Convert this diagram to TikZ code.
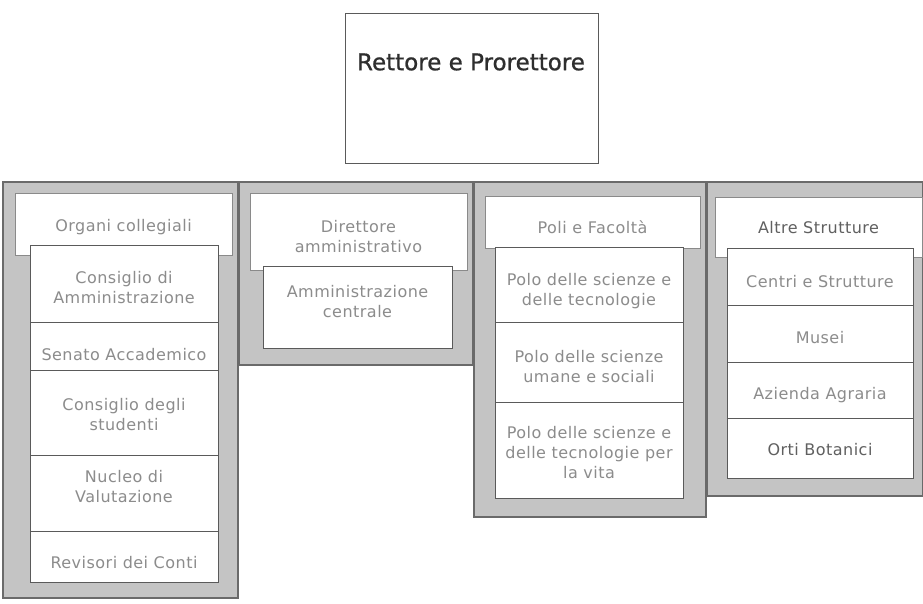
\documentclass[tikz,border=0pt]{standalone}
\usepackage{fontspec}
\newfontfamily\lblfont{DejaVu Sans}[LetterSpace=3]
\newfontfamily\ttlfont{DejaVu Sans}[FakeBold=0.8]
\definecolor{txtgray}{HTML}{8C8C8C}
\definecolor{txtdark}{HTML}{606060}
\definecolor{ttlcol}{HTML}{2E2E2E}
\definecolor{panelfill}{HTML}{C4C4C4}
\definecolor{panelline}{HTML}{6A6A6A}
\definecolor{boxline}{HTML}{5A5A5A}
\definecolor{hdrline}{HTML}{8A8A8A}
\begin{document}
\begin{tikzpicture}[x=1pt,y=-1pt,
  panel/.style={draw=panelline, fill=panelfill, line width=1.2pt, inner sep=0pt},
  hdrbox/.style={draw=hdrline, fill=white, line width=0.9pt, inner sep=0pt},
  subbox/.style={draw=boxline, fill=white, line width=0.9pt, inner sep=0pt},
  topbox/.style={draw=boxline, fill=white, line width=0.9pt, inner sep=0pt},
  lbl/.style={font=\lblfont\fontsize{16}{20}\selectfont, text=txtgray, align=center, inner sep=0pt},
  lbldark/.style={lbl, text=txtdark},
  ttl/.style={font=\ttlfont\fontsize{23}{27}\selectfont, text=ttlcol, inner sep=0pt}]
\useasboundingbox (0,0) rectangle (923,604);

% top box
\node[topbox, minimum width=253pt, minimum height=150pt] (rett) at (471.5,88) {};
\node[ttl] (rettT) at (471,62) {Rettore e Prorettore};

% panels
\node[panel, minimum width=235pt, minimum height=416pt] (p1) at (120.5,390) {};
\node[panel, minimum width=234pt, minimum height=183pt] (p2) at (356,273.5) {};
\node[panel, minimum width=232pt, minimum height=335pt] (p3) at (590,349.5) {};
\node[panel, minimum width=216pt, minimum height=314pt] (p4) at (815,339) {};

% headers
\node[hdrbox, minimum width=217pt, minimum height=62pt] (h1) at (123.5,224) {};
\node[hdrbox, minimum width=217pt, minimum height=77pt] (h2) at (358.5,231.5) {};
\node[hdrbox, minimum width=215pt, minimum height=52pt] (h3) at (592.5,222) {};
\node[hdrbox, minimum width=207pt, minimum height=60pt] (h4) at (818.5,227) {};
\node[lbl] (h1t) at (123.5,227) {Organi collegiali};
\node[lbl] (h2t) at (358.5,237) {Direttore\\amministrativo};
\node[lbl] (h3t) at (592.5,227) {Poli e Facoltà};
\node[lbldark] (h4t) at (818.5,228) {Altre Strutture};

% column 1
\node[subbox, minimum width=188pt, minimum height=77pt] (a1) at (124,283.5) {};
\node[subbox, minimum width=188pt, minimum height=48pt] (a2) at (124,346) {};
\node[subbox, minimum width=188pt, minimum height=85pt] (a3) at (124,412.5) {};
\node[subbox, minimum width=188pt, minimum height=76pt] (a4) at (124,493) {};
\node[subbox, minimum width=188pt, minimum height=51pt] (a5) at (124,556.5) {};
\node[lbl] (a1t) at (124,288) {Consiglio di\\Amministrazione};
\node[lbl] (a2t) at (124,355) {Senato Accademico};
\node[lbl] (a3t) at (124,415) {Consiglio degli\\studenti};
\node[lbl] (a4t) at (124,487) {Nucleo di\\Valutazione};
\node[lbl] (a5t) at (124,563) {Revisori dei Conti};

% column 2
\node[subbox, minimum width=189pt, minimum height=82pt] (b1) at (357.5,307) {};
\node[lbl] (b1t) at (357.5,302) {Amministrazione\\centrale};

% column 3
\node[subbox, minimum width=188pt, minimum height=75pt] (c1) at (589,284.5) {};
\node[subbox, minimum width=188pt, minimum height=80pt] (c2) at (589,362) {};
\node[subbox, minimum width=188pt, minimum height=96pt] (c3) at (589,450) {};
\node[lbl] (c1t) at (589,291) {Polo delle scienze e\\delle tecnologie};
\node[lbl] (c2t) at (589,367) {Polo delle scienze\\umane e sociali};
\node[lbl] (c3t) at (589,453) {Polo delle scienze e\\delle tecnologie per\\la vita};

% column 4
\node[subbox, minimum width=186pt, minimum height=57pt] (d1) at (820,276.5) {};
\node[subbox, minimum width=186pt, minimum height=57pt] (d2) at (820,333.5) {};
\node[subbox, minimum width=186pt, minimum height=56pt] (d3) at (820,390) {};
\node[subbox, minimum width=186pt, minimum height=60pt] (d4) at (820,448) {};
\node[lbl] (d1t) at (820,282) {Centri e Strutture};
\node[lbl] (d2t) at (820,338) {Musei};
\node[lbl] (d3t) at (820,395) {Azienda Agraria};
\node[lbldark] (d4t) at (820,450) {Orti Botanici};
\end{tikzpicture}
\end{document}
